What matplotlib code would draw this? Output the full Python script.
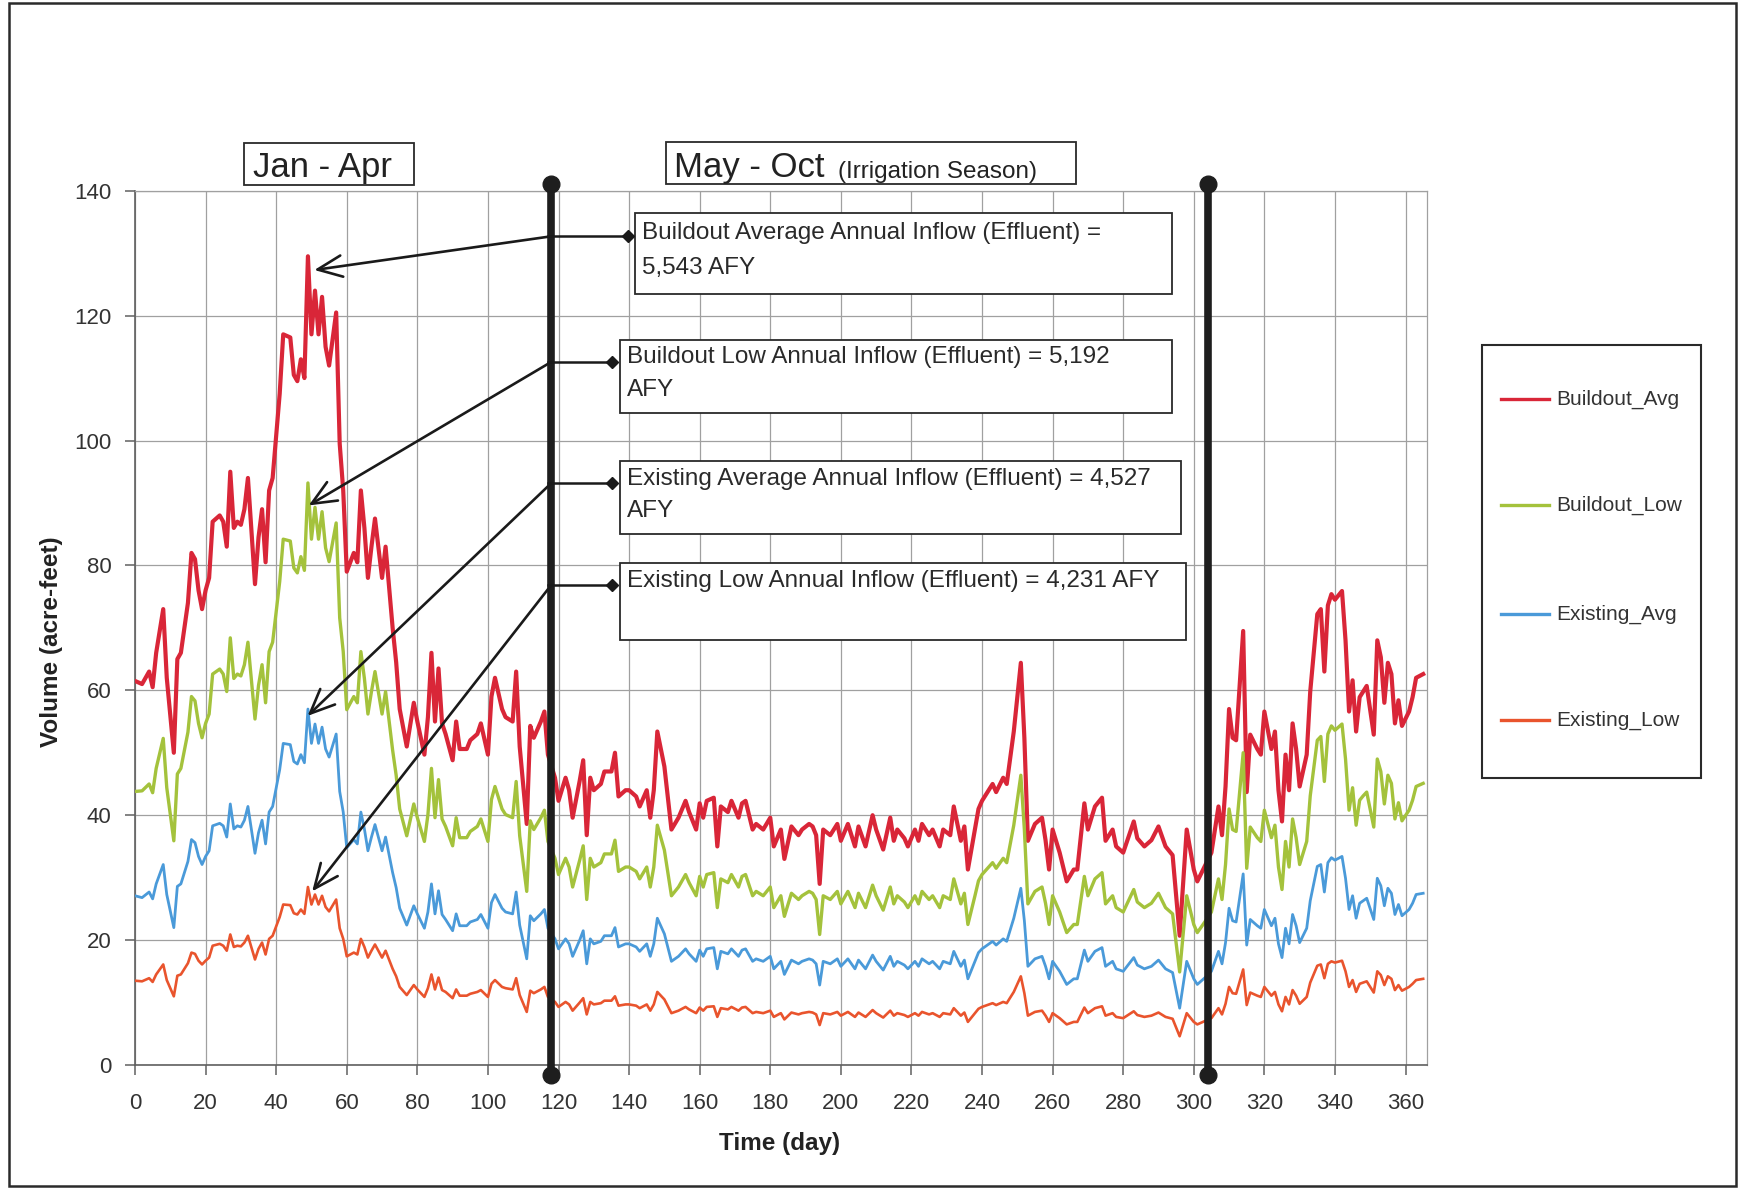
import matplotlib.pyplot as plt
from matplotlib.patches import Rectangle
from matplotlib.lines import Line2D

plt.rcParams['font.family'] = ['Liberation Sans', 'DejaVu Sans']

# daily effluent inflow volumes (acre-feet)
day = [0, 2, 4, 5, 6, 8, 9, 11, 12, 13, 15, 16, 17, 18, 19, 20,
       21, 22, 24, 25, 26, 27, 28, 29, 30, 31, 32, 33, 34, 35, 36, 37, 38, 39,
       41, 42, 44, 45, 46, 47, 48, 49, 50, 51, 52, 53, 54, 55, 57, 58, 59,
       60, 62, 63, 64, 65, 66, 67, 68, 70, 71, 73, 74, 75, 77, 79, 80,
       82, 83, 84, 85, 86, 87, 88, 90, 91, 92, 94, 95, 97, 98, 100,
       101, 102, 104, 105, 107, 108, 109, 111, 112, 113, 115, 116, 117,
       119, 120, 122, 123, 124, 126, 127, 128, 129, 130, 132, 133, 135, 136, 137, 139, 140,
       142, 143, 145, 146, 147, 148, 150, 152, 154, 156, 157, 159, 160,
       161, 162, 164, 165, 166, 168, 169, 171, 172, 173, 175, 176, 178, 180, 181,
       183, 184, 186, 188, 189, 191, 192, 193, 194, 195, 197, 199, 200,
       202, 204, 205, 207, 209, 210, 212, 214, 215, 216, 218, 219,
       221, 222, 223, 225, 226, 228, 229, 231, 232, 234, 235, 236, 238, 239, 240,
       243, 244, 246, 247, 249, 251, 252, 253, 255, 257, 258, 259, 260,
       262, 264, 266, 267, 269, 270, 272, 274, 275, 277, 278, 280,
       283, 284, 286, 288, 290, 292, 294, 296, 298, 300, 301, 303, 305,
       307, 308, 309, 310, 311, 312, 314, 315, 316, 318, 319, 320, 322, 323, 324,
       325, 326, 327, 328, 329, 330, 332, 333, 335, 336, 337, 338, 339, 340, 342,
       343, 344, 345, 346, 347, 348, 349, 351, 352, 353, 354, 355, 356, 357, 358, 359, 361, 362, 363, 365]

buildout_avg = [61.5, 61, 63, 60.5, 66, 73, 62, 50, 65, 66, 74, 82, 81, 76, 73, 76,
                78, 87, 88, 87, 83, 95, 86, 87, 86.5, 89, 94, 85.5, 77, 84.5, 89, 80.5, 92, 94,
                107.5, 117, 116.5, 110.5, 109.5, 113, 110, 129.5, 117, 124, 117, 123, 115, 112, 120.5, 99.5, 92,
                79, 82, 80.5, 92, 86, 78, 83, 87.5, 78, 83, 70, 64.5, 57, 51, 58, 55,
                49.7, 55.7, 66, 55, 63.5, 54.7, 53, 48.8, 55, 50.6, 50.6, 52, 53, 54.7, 49.7,
                59, 62, 57, 55.7, 55, 63, 51, 38.6, 54.3, 52.4, 55, 56.6, 49.7,
                46, 42.3, 46, 44, 39.6, 45.5, 48.8, 36.8, 46, 44, 45, 47, 47, 50, 43, 44, 44,
                43, 41.4, 44, 39.6, 44, 53.4, 47.8, 37.7, 39.6, 42.3, 40.5, 37.7, 41.9,
                39.6, 42.3, 42.8, 35, 41.4, 40.5, 42.3, 39.6, 41.9, 42.3, 37.7, 38.6, 37.7, 39.6, 35,
                37.7, 33, 38.2, 36.8, 37.7, 38.6, 38.2, 36.8, 29, 37.7, 36.8, 38.6, 35.9,
                38.6, 35, 38.2, 35, 40, 37.7, 34.5, 39.6, 35.9, 37.7, 36.3, 35,
                37.7, 35.9, 38.6, 36.8, 37.7, 35, 37.7, 36.8, 41.4, 35.9, 38.2, 31.3, 37.7, 41, 42.3,
                45, 43.7, 46, 45, 53.4, 64.4, 52.4, 35.9, 38.6, 39.6, 36, 31.3, 37.7,
                34, 29.4, 31.3, 31.3, 41.9, 37.7, 41.4, 42.8, 35.9, 37.7, 35, 34,
                39, 36.3, 35, 36, 38.2, 35, 33.6, 20.7, 37.7, 31.3, 29.4, 31.7, 34,
                41.4, 36.8, 44.6, 57, 52.4, 52, 69.5, 43.7, 52.9, 50.6, 49.7, 56.6, 50.6, 53.4, 44,
                39, 49.7, 44, 54.7, 50.6, 44.6, 49.7, 59.8, 72.2, 73, 63, 73.6, 75.4, 74.5, 75.9,
                68, 56.6, 61.6, 53.4, 58.9, 59.8, 60.7, 52.9, 68, 65.3, 58, 64.4, 62.6, 54.7, 58.4, 54.3, 56.6, 58.9, 62, 62.6]

buildout_low = [43.8, 43.9, 45.0, 43.6, 47.5, 52.3, 44.4, 35.9, 46.6, 47.5, 53.3, 59.0, 58.3, 54.7, 52.4, 54.7,
                56.2, 62.6, 63.4, 62.6, 59.8, 68.4, 61.9, 62.6, 62.3, 64.1, 67.7, 61.6, 55.4, 60.8, 64.1, 58.0, 66.2, 67.7,
                77.4, 84.2, 83.9, 79.6, 78.8, 81.4, 79.2, 93.2, 84.2, 89.3, 84.2, 88.6, 82.8, 80.6, 86.8, 71.6, 66.2,
                56.9, 59.0, 58.0, 66.2, 61.9, 56.2, 59.8, 63.0, 56.2, 59.8, 50.4, 46.4, 41.0, 36.7, 41.8, 39.6,
                35.8, 40.1, 47.5, 39.6, 45.7, 39.4, 38.2, 35.1, 39.6, 36.4, 36.4, 37.4, 38.2, 39.4, 35.8,
                42.5, 44.6, 41.0, 40.1, 39.6, 45.4, 36.7, 27.8, 39.1, 37.7, 39.6, 40.8, 35.8,
                33.1, 30.5, 33.1, 31.7, 28.5, 32.8, 35.1, 26.5, 33.1, 31.7, 32.4, 33.8, 33.8, 36.0, 31.0, 31.7, 31.7,
                31.0, 29.8, 31.7, 28.5, 31.7, 38.4, 34.4, 27.1, 28.5, 30.5, 29.2, 27.1, 30.2,
                28.5, 30.5, 30.8, 25.2, 29.8, 29.2, 30.5, 28.5, 30.2, 30.5, 27.1, 27.8, 27.1, 28.5, 25.2,
                27.1, 23.8, 27.5, 26.5, 27.1, 27.8, 27.5, 26.5, 20.9, 27.1, 26.5, 27.8, 25.8,
                27.8, 25.2, 27.5, 25.2, 28.8, 27.1, 24.8, 28.5, 25.8, 27.1, 26.1, 25.2,
                27.1, 25.8, 27.8, 26.5, 27.1, 25.2, 27.1, 26.5, 29.8, 25.8, 27.5, 22.5, 27.1, 29.5, 30.5,
                32.4, 31.5, 33.1, 32.4, 38.4, 46.4, 37.7, 25.8, 27.8, 28.5, 25.9, 22.5, 27.1,
                24.5, 21.2, 22.5, 22.5, 30.2, 27.1, 29.8, 30.8, 25.8, 27.1, 25.2, 24.5,
                28.1, 26.1, 25.2, 25.9, 27.5, 25.2, 24.2, 14.9, 27.1, 22.5, 21.2, 22.8, 24.5,
                29.8, 26.5, 32.1, 41.0, 37.7, 37.4, 50.0, 31.5, 38.1, 36.4, 35.8, 40.8, 36.4, 38.4, 31.7,
                28.1, 35.8, 31.7, 39.4, 36.4, 32.1, 35.8, 43.1, 52.0, 52.6, 45.4, 53.0, 54.3, 53.6, 54.6,
                49.0, 40.8, 44.4, 38.4, 42.4, 43.1, 43.7, 38.1, 49.0, 47.0, 41.8, 46.4, 45.1, 39.4, 42.0, 39.1, 40.8, 42.4, 44.6, 45.1]

existing_avg = [27.1, 26.8, 27.7, 26.6, 29.0, 32.1, 27.3, 22.0, 28.6, 29.0, 32.6, 36.1, 35.6, 33.4, 32.1, 33.4,
                34.3, 38.3, 38.7, 38.3, 36.5, 41.8, 37.8, 38.3, 38.1, 39.2, 41.4, 37.6, 33.9, 37.2, 39.2, 35.4, 40.5, 41.4,
                47.3, 51.5, 51.3, 48.6, 48.2, 49.7, 48.4, 57.0, 51.5, 54.6, 51.5, 54.1, 50.6, 49.3, 53.0, 43.8, 40.5,
                34.8, 36.1, 35.4, 40.5, 37.8, 34.3, 36.5, 38.5, 34.3, 36.5, 30.8, 28.4, 25.1, 22.4, 25.5, 24.2,
                21.9, 24.5, 29.0, 24.2, 27.9, 24.1, 23.3, 21.5, 24.2, 22.3, 22.3, 22.9, 23.3, 24.1, 21.9,
                26.0, 27.3, 25.1, 24.5, 24.2, 27.7, 22.4, 17.0, 23.9, 23.1, 24.2, 24.9, 21.9,
                20.2, 18.6, 20.2, 19.4, 17.4, 20.0, 21.5, 16.2, 20.2, 19.4, 19.8, 20.7, 20.7, 22.0, 18.9, 19.4, 19.4,
                18.9, 18.2, 19.4, 17.4, 19.4, 23.5, 21.0, 16.6, 17.4, 18.6, 17.8, 16.6, 18.4,
                17.4, 18.6, 18.8, 15.4, 18.2, 17.8, 18.6, 17.4, 18.4, 18.6, 16.6, 17.0, 16.6, 17.4, 15.4,
                16.6, 14.5, 16.8, 16.2, 16.6, 17.0, 16.8, 16.2, 12.8, 16.6, 16.2, 17.0, 15.8,
                17.0, 15.4, 16.8, 15.4, 17.6, 16.6, 15.2, 17.4, 15.8, 16.6, 16.0, 15.4,
                16.6, 15.8, 17.0, 16.2, 16.6, 15.4, 16.6, 16.2, 18.2, 15.8, 16.8, 13.8, 16.6, 18.0, 18.6,
                19.8, 19.2, 20.2, 19.8, 23.5, 28.3, 23.1, 15.8, 17.0, 17.4, 15.8, 13.8, 16.6,
                15.0, 12.9, 13.8, 13.8, 18.4, 16.6, 18.2, 18.8, 15.8, 16.6, 15.4, 15.0,
                17.2, 16.0, 15.4, 15.8, 16.8, 15.4, 14.8, 9.1, 16.6, 13.8, 12.9, 13.9, 15.0,
                18.2, 16.2, 19.6, 25.1, 23.1, 22.9, 30.6, 19.2, 23.3, 22.3, 21.9, 24.9, 22.3, 23.5, 19.4,
                17.2, 21.9, 19.4, 24.1, 22.3, 19.6, 21.9, 26.3, 31.8, 32.1, 27.7, 32.4, 33.2, 32.8, 33.4,
                29.9, 24.9, 27.1, 23.5, 25.9, 26.3, 26.7, 23.3, 29.9, 28.7, 25.5, 28.3, 27.5, 24.1, 25.7, 23.9, 24.9, 25.9, 27.3, 27.5]

existing_low = [13.5, 13.4, 13.9, 13.3, 14.5, 16.1, 13.6, 11.0, 14.3, 14.5, 16.3, 18.0, 17.8, 16.7, 16.1, 16.7,
                17.2, 19.1, 19.4, 19.1, 18.3, 20.9, 18.9, 19.1, 19.0, 19.6, 20.7, 18.8, 16.9, 18.6, 19.6, 17.7, 20.2, 20.7,
                23.7, 25.7, 25.6, 24.3, 24.1, 24.9, 24.2, 28.5, 25.7, 27.3, 25.7, 27.1, 25.3, 24.6, 26.5, 21.9, 20.2,
                17.4, 18.0, 17.7, 20.2, 18.9, 17.2, 18.3, 19.3, 17.2, 18.3, 15.4, 14.2, 12.5, 11.2, 12.8, 12.1,
                10.9, 12.3, 14.5, 12.1, 14.0, 12.0, 11.7, 10.7, 12.1, 11.1, 11.1, 11.4, 11.7, 12.0, 10.9,
                13.0, 13.6, 12.5, 12.3, 12.1, 13.9, 11.2, 8.5, 11.9, 11.5, 12.1, 12.5, 10.9,
                10.1, 9.3, 10.1, 9.7, 8.7, 10.0, 10.7, 8.1, 10.1, 9.7, 9.9, 10.3, 10.3, 11.0, 9.5, 9.7, 9.7,
                9.5, 9.1, 9.7, 8.7, 9.7, 11.7, 10.5, 8.3, 8.7, 9.3, 8.9, 8.3, 9.2,
                8.7, 9.3, 9.4, 7.7, 9.1, 8.9, 9.3, 8.7, 9.2, 9.3, 8.3, 8.5, 8.3, 8.7, 7.7,
                8.3, 7.3, 8.4, 8.1, 8.3, 8.5, 8.4, 8.1, 6.4, 8.3, 8.1, 8.5, 7.9,
                8.5, 7.7, 8.4, 7.7, 8.8, 8.3, 7.6, 8.7, 7.9, 8.3, 8.0, 7.7,
                8.3, 7.9, 8.5, 8.1, 8.3, 7.7, 8.3, 8.1, 9.1, 7.9, 8.4, 6.9, 8.3, 9.0, 9.3,
                9.9, 9.6, 10.1, 9.9, 11.7, 14.2, 11.5, 7.9, 8.5, 8.7, 7.9, 6.9, 8.3,
                7.5, 6.5, 6.9, 6.9, 9.2, 8.3, 9.1, 9.4, 7.9, 8.3, 7.7, 7.5,
                8.6, 8.0, 7.7, 7.9, 8.4, 7.7, 7.4, 4.6, 8.3, 6.9, 6.5, 7.0, 7.5,
                9.1, 8.1, 9.8, 12.5, 11.5, 11.4, 15.3, 9.6, 11.6, 11.1, 10.9, 12.5, 11.1, 11.7, 9.7,
                8.6, 10.9, 9.7, 12.0, 11.1, 9.8, 10.9, 13.2, 15.9, 16.1, 13.9, 16.2, 16.6, 16.4, 16.7,
                15.0, 12.5, 13.6, 11.7, 13.0, 13.2, 13.4, 11.6, 15.0, 14.4, 12.8, 14.2, 13.8, 12.0, 12.8, 11.9, 12.5, 13.0, 13.6, 13.8]

series = [
    ("Buildout_Avg", buildout_avg, "#d92638", 3.0),
    ("Buildout_Low", buildout_low, "#a4c23c", 2.4),
    ("Existing_Avg", existing_avg, "#4a9ad9", 2.0),
    ("Existing_Low", existing_low, "#e9542d", 1.9),
]

# season boundaries (day) and annotation callouts
season_breaks = [118, 304]
callouts = [
    ("Buildout Average Annual Inflow (Effluent) =", "5,543 AFY", (50.8, 127.3), 132.7, 139.8, (141.8, 123.5, 151.9, 12.9)),
    ("Buildout Low Annual Inflow (Effluent) = 5,192", "AFY", (49.2, 89.6), 112.6, 135.2, (137.4, 104.4, 156.3, 11.7)),
    ("Existing Average Annual Inflow (Effluent) = 4,527", "AFY", (48.9, 55.9), 93.2, 135.2, (137.4, 85.0, 158.9, 11.7)),
    ("Existing Low Annual Inflow (Effluent) = 4,231 AFY", "", (50.2, 27.8), 76.9, 135.2, (137.4, 68.1, 160.5, 12.3)),
]

W, H = 1741, 1189
fig = plt.figure(figsize=(W / 100, H / 100), dpi=100)
ax = fig.add_axes([135 / W, 1 - 1065 / H, 1291.7 / W, 874.3 / H])

lines = []
for name, vals, color, lw in series:
    ln, = ax.plot(day, vals, color=color, lw=lw, solid_joinstyle='round', zorder=3)
    lines.append(ln)

ax.set_xlim(0, 366)
ax.set_ylim(0, 140)
ax.set_xticks(range(0, 361, 20))
ax.set_yticks(range(0, 141, 20))
ax.grid(color='#a0a0a0', lw=0.9)
ax.set_axisbelow(True)
for s in ['top', 'right']:
    ax.spines[s].set_color('#a0a0a0')
    ax.spines[s].set_linewidth(0.9)
for s in ['left', 'bottom']:
    ax.spines[s].set_color('#606060')
    ax.spines[s].set_linewidth(1.2)
ax.tick_params(direction='out', length=7, width=1.1, color='#606060',
               labelsize=16, labelcolor='#333333')
ax.tick_params(axis='x', pad=13)
ax.tick_params(axis='y', pad=10)

ax.set_xlabel('Time (day)', fontsize=17.5, fontweight='bold', color='#222222')
ax.xaxis.set_label_coords(0.499, -0.09)
ax.xaxis.label.set_va('center')
ax.set_ylabel('Volume (acre-feet)', fontsize=17.5, fontweight='bold', color='#222222')
ax.yaxis.set_label_coords(-0.065, 0.484)
ax.yaxis.label.set_va('center')

# thick season divider bars with round ends
for d in season_breaks:
    ax.plot([d, d], [-1.6, 141], color='#1e1e1e', lw=5.5, marker='o', ms=12,
            solid_capstyle='butt', clip_on=False, zorder=6)

# callout boxes with elbow arrows pointing at the peak of each series
for line1, line2, tip, bend_y, stub_x, box in callouts:
    bx, by, bw, bh = box
    ax.add_patch(Rectangle((bx, by), bw, bh, facecolor='white', edgecolor='#2a2a2a',
                           lw=1.3, zorder=5))
    ax.text(bx + 1.9, by + bh * 0.76, line1, fontsize=17.5, color='#2a2a2a',
            va='center', ha='left', zorder=7)
    if line2:
        ax.text(bx + 1.9, by + bh * 0.32, line2, fontsize=17.5, color='#2a2a2a',
                va='center', ha='left', zorder=7)
    ax.plot([season_breaks[0] - 1, stub_x], [bend_y, bend_y], color='#1a1a1a', lw=1.8, zorder=7)
    ax.plot([stub_x], [bend_y], marker='D', ms=6, color='#1a1a1a', zorder=7)
    ax.annotate('', xy=tip, xytext=(season_breaks[0], bend_y),
                arrowprops=dict(arrowstyle='->, head_length=0.8, head_width=0.35',
                                mutation_scale=22, lw=1.9, color='#1a1a1a',
                                shrinkA=0, shrinkB=0),
                zorder=7)

# season labels above the plot
def px(x, y):
    return x / W, 1 - y / H

fig.add_artist(Rectangle(px(244, 185), 170 / W, 42 / H, transform=fig.transFigure,
                         facecolor='white', edgecolor='#2a2a2a', lw=1.3))
fig.text(*px(253, 168), 'Jan - Apr', fontsize=25, color='#222222',
         va='center', ha='left')
fig.add_artist(Rectangle(px(666, 184), 410 / W, 42 / H, transform=fig.transFigure,
                         facecolor='white', edgecolor='#2a2a2a', lw=1.3))
fig.text(*px(674, 167), 'May - Oct', fontsize=25, color='#222222',
         va='center', ha='left')
fig.text(*px(838, 172), '(Irrigation Season)', fontsize=17.5, color='#222222',
         va='center', ha='left')

# legend panel
fig.add_artist(Rectangle(px(1482, 778), 219 / W, 433 / H, transform=fig.transFigure,
                         facecolor='white', edgecolor='#2a2a2a', lw=1.5))
for ln, (name, _, _, _), ly in zip(lines, series, [399, 505, 614, 720]):
    x0, y0 = px(1501, ly)
    x1, _ = px(1549, ly)
    fig.add_artist(Line2D([x0, x1], [y0, y0], transform=fig.transFigure,
                          color=ln.get_color(), lw=2.4))
    fig.text(*px(1556, ly), name, fontsize=15, color='#333333', va='center', ha='left')

# outer frame
fig.add_artist(Rectangle(px(9, 1186), 1727 / W, 1183 / H, transform=fig.transFigure,
                         fill=False, edgecolor='#2a2a2a', lw=1.8))

fig.savefig('out.png', dpi=100)
